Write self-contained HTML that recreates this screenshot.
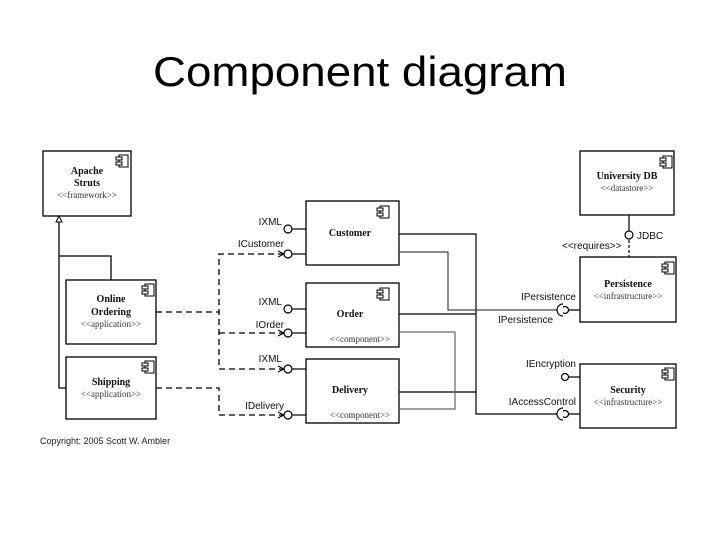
<!DOCTYPE html>
<html><head><meta charset="utf-8"><style>
html,body{margin:0;padding:0;background:#fff;}
svg{display:block;}
.b{font-family:"Liberation Serif",serif;font-weight:bold;font-size:10px;fill:#111;}
.s{font-family:"Liberation Serif",serif;font-size:9px;fill:#333;}
.l{font-family:"Liberation Sans",sans-serif;font-size:10px;fill:#111;}
</style></head><body>
<svg width="720" height="540" viewBox="0 0 720 540" xmlns="http://www.w3.org/2000/svg">
<defs>
<g id="ic" fill="#fff" stroke="#000" stroke-width="1">
<rect x="0" y="0" width="9" height="12"/>
<rect x="-3" y="2" width="6" height="3"/>
<rect x="-3" y="7" width="6" height="3"/>
</g>
</defs>
<text x="360" y="86" text-anchor="middle" font-family="Liberation Sans, sans-serif" font-size="42" textLength="414" lengthAdjust="spacingAndGlyphs" fill="#000">Component diagram</text>

<g fill="#fff" stroke="#000" stroke-width="1.3">
<rect x="43" y="151" width="88" height="65"/>
<rect x="66" y="280" width="90" height="64"/>
<rect x="66" y="357" width="90" height="62"/>
<rect x="306" y="201" width="93" height="64"/>
<rect x="306" y="283" width="93" height="64"/>
<rect x="306" y="359" width="93" height="64"/>
<rect x="580" y="151" width="94" height="64"/>
<rect x="580" y="257" width="96" height="65"/>
<rect x="580" y="364" width="96" height="64"/>
</g>
<use href="#ic" x="119" y="155"/>
<use href="#ic" x="145" y="284"/>
<use href="#ic" x="145" y="361"/>
<use href="#ic" x="380" y="206"/>
<use href="#ic" x="380" y="288"/>
<use href="#ic" x="663" y="156"/>
<use href="#ic" x="665" y="262"/>
<use href="#ic" x="665" y="368"/>

<text class="b" x="87" y="174" text-anchor="middle">Apache</text>
<text class="b" x="87" y="186" text-anchor="middle">Struts</text>
<text class="s" x="87" y="198" text-anchor="middle">&lt;&lt;framework&gt;&gt;</text>
<text class="b" x="111" y="302" text-anchor="middle">Online</text>
<text class="b" x="111" y="315" text-anchor="middle">Ordering</text>
<text class="s" x="111" y="327" text-anchor="middle">&lt;&lt;application&gt;&gt;</text>
<text class="b" x="111" y="385" text-anchor="middle">Shipping</text>
<text class="s" x="111" y="397" text-anchor="middle">&lt;&lt;application&gt;&gt;</text>
<text class="b" x="350" y="236" text-anchor="middle">Customer</text>
<text class="b" x="350" y="317" text-anchor="middle">Order</text>
<text class="s" x="360" y="342" text-anchor="middle" font-size="8">&lt;&lt;component&gt;&gt;</text>
<text class="b" x="350" y="393" text-anchor="middle">Delivery</text>
<text class="s" x="360" y="418" text-anchor="middle" font-size="8">&lt;&lt;component&gt;&gt;</text>
<text class="b" x="627" y="179" text-anchor="middle">University DB</text>
<text class="s" x="627" y="191" text-anchor="middle">&lt;&lt;datastore&gt;&gt;</text>
<text class="b" x="628" y="287" text-anchor="middle">Persistence</text>
<text class="s" x="628" y="299" text-anchor="middle">&lt;&lt;infrastructure&gt;&gt;</text>
<text class="b" x="628" y="393" text-anchor="middle">Security</text>
<text class="s" x="628" y="405" text-anchor="middle">&lt;&lt;infrastructure&gt;&gt;</text>

<!-- generalization -->
<g fill="none" stroke="#000" stroke-width="1.3">
<polyline points="66,388 59,388 59,222"/>
<polyline points="59,256 111,256 111,280"/>
</g>
<polygon points="59,216 56,222 62,222" fill="#fff" stroke="#000"/>

<!-- dashed dependencies -->
<g fill="none" stroke="#000" stroke-width="1.3" stroke-dasharray="6,4">
<polyline points="156,312 219,312"/>
<polyline points="284,254 219,254 219,369 284,369"/>
<polyline points="219,333 284,333"/>
<polyline points="156,388 219,388 219,415 284,415"/>
</g>
<g fill="none" stroke="#000" stroke-width="1">
<polyline points="278,251 284,254 278,257"/>
<polyline points="278,330 284,333 278,336"/>
<polyline points="278,366 284,369 278,372"/>
<polyline points="278,412 284,415 278,418"/>
</g>

<!-- lollipops left -->
<g fill="#fff" stroke="#000" stroke-width="1.2">
<line x1="292" y1="229" x2="306" y2="229"/><circle cx="288" cy="229" r="4"/>
<line x1="292" y1="254" x2="306" y2="254"/><circle cx="288" cy="254" r="4"/>
<line x1="292" y1="309" x2="306" y2="309"/><circle cx="288" cy="309" r="4"/>
<line x1="292" y1="333" x2="306" y2="333"/><circle cx="288" cy="333" r="4"/>
<line x1="292" y1="369" x2="306" y2="369"/><circle cx="288" cy="369" r="4"/>
<line x1="292" y1="415" x2="306" y2="415"/><circle cx="288" cy="415" r="4"/>
</g>
<text class="l" x="282" y="225" text-anchor="end">IXML</text>
<text class="l" x="284" y="247" text-anchor="end">ICustomer</text>
<text class="l" x="282" y="305" text-anchor="end">IXML</text>
<text class="l" x="284" y="328" text-anchor="end">IOrder</text>
<text class="l" x="282" y="362" text-anchor="end">IXML</text>
<text class="l" x="284" y="409" text-anchor="end">IDelivery</text>

<!-- right wiring -->
<g fill="none" stroke="#000" stroke-width="1.2">
<polyline points="399,234 476,234 476,414 560,414"/>
<polyline points="399,314 476,314"/>
<polyline points="399,392 476,392"/>
<polyline points="399,332 455,332 455,409 399,409" stroke="#666"/>
<polyline points="399,252 448,252 448,310 560,310" stroke="#444"/>
<line x1="568" y1="310" x2="580" y2="310"/>
<line x1="568" y1="414" x2="580" y2="414"/>
<line x1="568" y1="377" x2="580" y2="377"/>
<line x1="629" y1="215" x2="629" y2="231"/>
<line x1="629" y1="240" x2="629" y2="257" stroke-dasharray="3,2"/>
</g>
<g fill="#fff" stroke="#000" stroke-width="1.2">
<circle cx="565" cy="310" r="3.5"/>
<path d="M563,304 A6,6 0 0 0 563,316"/>
<circle cx="565" cy="414" r="3.5"/>
<path d="M563,408 A6,6 0 0 0 563,420"/>
<circle cx="565" cy="377" r="3.5"/>
<circle cx="629" cy="235" r="4"/>
</g>
<text class="l" x="576" y="300" text-anchor="end">IPersistence</text>
<text class="l" x="498" y="323">IPersistence</text>
<text class="l" x="576" y="367" text-anchor="end">IEncryption</text>
<text class="l" x="576" y="405" text-anchor="end">IAccessControl</text>
<text class="l" x="637" y="239">JDBC</text>
<text class="l" x="562" y="249" font-size="9">&lt;&lt;requires&gt;&gt;</text>

<text x="40" y="444" font-family="Liberation Sans, sans-serif" font-size="9" fill="#222">Copyright: 2005 Scott W. Ambler</text>
</svg>
</body></html>
